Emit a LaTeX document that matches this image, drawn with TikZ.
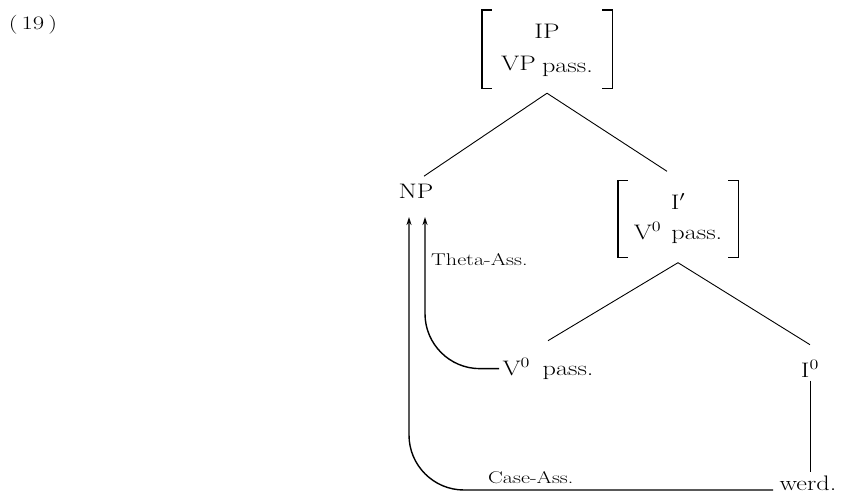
\documentclass[tikz,border=0pt]{standalone}
\usetikzlibrary{arrows.meta}
\newcommand{\wide}[1]{\scalebox{1.25}[1]{#1}}
\newcommand{\swide}[1]{\scalebox{1.3}[1]{#1}}
\begin{document}
\begin{tikzpicture}[x=1pt,y=-1pt,
  lbl/.style={inner sep=3.3pt, anchor=base, font=\fontsize{21}{26}\selectfont},
  slbl/.style={inner sep=1pt, anchor=base west, font=\fontsize{17}{20}\selectfont},
  brbox/.style={inner sep=0pt, font=\fontsize{21}{26}\selectfont, align=center},
  tree/.style={line width=0.9pt},
  brk/.style={line width=1.4pt},
  arr/.style={line width=1.4pt, rounded corners=55pt, -{Stealth[length=8pt,width=5pt]}}]
\path[use as bounding box] (0,0) rectangle (841,501);

\node[slbl, anchor=base, font=\fontsize{19}{22}\selectfont] (num) at (33,29) {\swide{(\,19\,)}};

% top bracket box
\node[brbox, minimum width=130pt, minimum height=78pt] (IP) at (547,49)
  {\wide{\begin{tabular}{@{}c@{}}IP\\[6pt]VP\hspace{5pt}\raisebox{-2pt}{pass.}\end{tabular}}};
\draw[brk] ([xshift=10pt]IP.north west) -- (IP.north west) -- (IP.south west) -- ([xshift=10pt]IP.south west);
\draw[brk] ([xshift=-10pt]IP.north east) -- (IP.north east) -- (IP.south east) -- ([xshift=-10pt]IP.south east);

\node[lbl] (NP) at (416,198) {\wide{NP}};

% I' bracket box
\node[brbox, minimum width=120pt, minimum height=77pt] (Ib) at (678,219)
  {\wide{\begin{tabular}{@{}c@{}}I$'$\\[4pt]V$^0$\hspace{8pt}pass.\end{tabular}}};
\draw[brk] ([xshift=10pt]Ib.north west) -- (Ib.north west) -- (Ib.south west) -- ([xshift=10pt]Ib.south west);
\draw[brk] ([xshift=-10pt]Ib.north east) -- (Ib.north east) -- (Ib.south east) -- ([xshift=-10pt]Ib.south east);

\node[lbl] (V0) at (548,375) {\wide{V$^0$\hspace{10pt}pass.}};
\node[lbl] (I0) at (810,377) {\wide{I$^0$}};
\node[lbl] (werd) at (808,490) {\wide{werd.}};

\node[slbl] (theta) at (430,265) {\swide{Theta-Ass.}};
\node[slbl] (case) at (487,483) {\swide{Case-Ass.}};

% tree lines
\draw[tree] ([yshift=-5pt]IP.south) -- ([shift={(8pt,4pt)}]NP.north);
\draw[tree] ([yshift=-5pt]IP.south) -- ([shift={(-11pt,9pt)}]Ib.north);
\draw[tree] ([yshift=-5pt]Ib.south) -- ([yshift=14pt]V0.north);
\draw[tree] ([yshift=-5pt]Ib.south) -- ([yshift=12pt]I0.north);
\draw[tree] (I0.south) -- (I0.south |- werd.north);

% assignment arrows
\draw[arr] (V0.west) -| ([shift={(9pt,-19pt)}]NP.base);
\draw[arr] ([xshift=-3pt]werd.base west) -| ([shift={(-7pt,-19pt)}]NP.base);
\end{tikzpicture}
\end{document}
